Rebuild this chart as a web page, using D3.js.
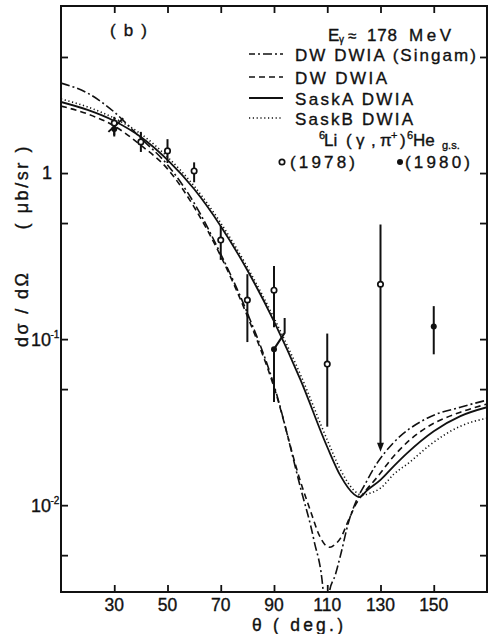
<!DOCTYPE html>
<html><head><meta charset="utf-8">
<script src="https://cdn.jsdelivr.net/npm/d3@7"></script>
<style>
body{margin:0;background:#fff}
svg text{font-family:"Liberation Sans",Arial,Helvetica,sans-serif;fill:#111;stroke:#111;stroke-width:0.35}
</style>
</head><body>
<svg id="chart" width="492" height="634"></svg>
<script>
// ---------- data ----------
const thetaTicks = [30,50,70,90,110,130,150];
const yMajorTicks = [1,0.1,0.01];
const yMinorTicks = [5,0.5,0.05,0.005];

// DW DWIA (Singam) – dash-dot
const singamT = [10,20,30,40,50,60,70,80,90,100,105,108.5,109.6,110.8,113,115,118,121,124,128.7,134.7,147.5,160,170];
const singamV = [3.48,3.03,2.33,1.62,1.12,0.660,0.325,0.1435,0.0528,0.01266,0.00615,0.0030,0.0015,0.0030,0.00379,0.0050,0.0079,0.0107,0.0132,0.0179,0.0236,0.0334,0.0389,0.0429];
// DW DWIA – dashed
const dwT = [10,20,30,40,50,60,70,80,90,100,104,107,109,111,113,115,118,121,124,128.7,134.7,141,147.5,160,170];
const dwV = [2.53,2.27,1.92,1.47,1.06,0.624,0.316,0.1376,0.0514,0.0138,0.00895,0.00659,0.00582,0.00558,0.00582,0.00633,0.00812,0.0103,0.0120,0.0147,0.0195,0.0247,0.0295,0.0363,0.0406];
// SaskA DWIA – solid
const saskAT = [10,20,30,40,50,60,70,80,90,100,110,115,120,122,125,130,135,140,150,160,170];
const saskAV = [2.68,2.40,2.06,1.65,1.20,0.801,0.479,0.260,0.128,0.0566,0.0224,0.0150,0.01165,0.01117,0.0123,0.0142,0.0172,0.0206,0.0279,0.0344,0.0389];
// SaskB DWIA – dotted
const saskBT = [10,20,30,40,50,60,70,80,90,100,110,115,120,123,126,130,135,141,148,160,170];
const saskBV = [2.79,2.50,2.14,1.72,1.25,0.835,0.500,0.271,0.134,0.0607,0.0247,0.0163,0.0123,0.0115,0.0118,0.01266,0.01537,0.01816,0.02266,0.0299,0.0334];

// data (1978) open circles
const open78T  = [30,40,50,60,70,80,90,110,130];
const open78V  = [2.0,1.54,1.36,1.03,0.395,0.172,0.197,0.0707,0.214];
const open78Lo = [1.69,1.34,1.15,0.88,0.30,0.096,0.118,0.0297,0.021];
const open78Hi = [2.18,1.77,1.60,1.16,0.48,0.246,0.276,0.108,0.49];
const open78Arrow = [false,false,false,false,false,false,false,false,true];
// data (1980) filled circles
const filled80T  = [30,90,150];
const filled80V  = [1.84,0.087,0.119];
const filled80Lo = [1.66,0.0418,0.081];
const filled80Hi = [2.05,0.087,0.158];
const bentBar90 = [[90,0.087],[94,0.109],[94,0.134]];
const bentBar30 = [[27.8,1.77],[33.4,2.14]];

// ---------- chart ----------
const svg = d3.select("#chart");
const L=61, R=487, T=6, B=592;
const x = d3.scaleLinear().domain([10,170]).range([L,R]);
const y = d3.scaleLog().domain([0.003,10]).range([B,7]);

svg.append("defs").append("clipPath").attr("id","plot")
  .append("rect").attr("x",L).attr("y",T).attr("width",R-L).attr("height",B-T);

function tickAxis(gen, tr, vals, size){
  const g = svg.append("g").attr("transform",tr)
    .call(gen.tickValues(vals).tickSize(size).tickFormat(""));
  g.select(".domain").remove();
  g.selectAll(".tick line").attr("stroke","#111").attr("stroke-width",1.8);
  return g;
}
tickAxis(d3.axisTop(x), `translate(0,${B})`, thetaTicks, 7);
tickAxis(d3.axisBottom(x), `translate(0,${T})`, thetaTicks, 7);
tickAxis(d3.axisRight(y), `translate(${L},0)`, yMajorTicks.concat(yMinorTicks), 7);
tickAxis(d3.axisLeft(y), `translate(${R},0)`, yMajorTicks.concat(yMinorTicks), 7);

svg.append("rect").attr("x",L).attr("y",T).attr("width",R-L).attr("height",B-T)
  .attr("fill","none").attr("stroke","#111").attr("stroke-width",2);

// x tick labels
svg.append("g").selectAll("text").data(thetaTicks).join("text")
  .attr("x",d=>x(d)).attr("y",611).attr("text-anchor","middle")
  .attr("font-size",17.5).text(d=>d);

// y tick labels
yMajorTicks.forEach(v=>{
  const yy = y(v);
  if(v===1){
    svg.append("text").attr("x",52).attr("y",yy+6).attr("text-anchor","end")
      .attr("font-size",18).text("1");
  } else {
    const e = Math.round(Math.log10(v));
    svg.append("text").attr("x",51).attr("y",yy+7).attr("text-anchor","end")
      .attr("font-size",18).text("10");
    svg.append("text").attr("x",50.5).attr("y",yy-1).attr("font-size",10).text(String(e));
  }
});

// axis titles
svg.append("text").attr("transform","translate(28,310) rotate(-90)")
  .attr("text-anchor","middle").attr("font-size",18)
  .attr("textLength",74).attr("lengthAdjust","spacing").text("d\u03C3 / d\u03A9");
svg.append("text").attr("transform","translate(28,188) rotate(-90)")
  .attr("text-anchor","middle").attr("font-size",18)
  .attr("textLength",83).attr("lengthAdjust","spacing").text("( \u03BCb/sr )");
svg.append("text").attr("x",252).attr("y",630.5).attr("font-size",17.5)
  .attr("textLength",91).attr("lengthAdjust","spacing").text("\u03B8   ( deg.)");
svg.append("text").attr("x",110).attr("y",36).attr("font-size",17)
  .attr("textLength",37).attr("lengthAdjust","spacing").text("( b )");

// curves
const curves = [
  {t:singamT, v:singamV, dash:"9,3,2,3", w:1.6},
  {t:dwT, v:dwV, dash:"6,4", w:1.6},
  {t:saskAT, v:saskAV, dash:null, w:1.8},
  {t:saskBT, v:saskBV, dash:"1.2,2.6", w:1.6}
];
const line = d3.line().x(d=>x(d[0])).y(d=>y(d[1])).curve(d3.curveMonotoneX);
const cg = svg.append("g").attr("clip-path","url(#plot)");
curves.forEach(c=>{
  cg.append("path").attr("d", line(d3.zip(c.t,c.v)))
    .attr("fill","none").attr("stroke","#111").attr("stroke-width",c.w)
    .attr("stroke-dasharray",c.dash);
});

// error bars and points
const pg = svg.append("g");
open78T.forEach((t,i)=>{
  pg.append("line").attr("x1",x(t)).attr("x2",x(t))
    .attr("y1",y(open78Hi[i])).attr("y2",y(open78Lo[i]) - (open78Arrow[i]?6:0))
    .attr("stroke","#111").attr("stroke-width",2);
  if(open78Arrow[i]){
    const xt=x(t), yt=y(open78Lo[i]);
    pg.append("path").attr("d",`M${xt-3.5},${yt-9}L${xt+3.5},${yt-9}L${xt},${yt}Z`).attr("fill","#111");
  }
});
filled80T.forEach((t,i)=>{
  pg.append("line").attr("x1",x(t)).attr("x2",x(t))
    .attr("y1",y(filled80Hi[i])).attr("y2",y(filled80Lo[i]))
    .attr("stroke","#111").attr("stroke-width",2);
});
const straight = d3.line().x(d=>x(d[0])).y(d=>y(d[1]));
[bentBar90, bentBar30].forEach(b=>{
  pg.append("path").attr("d",straight(b))
    .attr("fill","none").attr("stroke","#111").attr("stroke-width",2);
});
pg.selectAll("circle.o").data(d3.zip(open78T,open78V)).join("circle")
  .attr("cx",d=>x(d[0])).attr("cy",d=>y(d[1])).attr("r",2.7)
  .attr("fill","#fff").attr("stroke","#111").attr("stroke-width",1.7);
pg.selectAll("circle.f").data(d3.zip(filled80T,filled80V)).join("circle")
  .attr("cx",d=>x(d[0])).attr("cy",d=>y(d[1])).attr("r",3)
  .attr("fill","#111");

// legend
const lg = svg.append("g");
lg.append("text").attr("x",328).attr("y",41).attr("font-size",17).text("E");
lg.append("text").attr("x",339).attr("y",43).attr("font-size",10).text("\u03B3");
lg.append("text").attr("x",348).attr("y",41).attr("font-size",15).text("\u2248");
lg.append("text").attr("x",367).attr("y",41).attr("font-size",17)
  .attr("textLength",30).attr("lengthAdjust","spacing").text("178");
lg.append("text").attr("x",409).attr("y",41).attr("font-size",17)
  .attr("textLength",42).attr("lengthAdjust","spacing").text("MeV");

const rows = [
  {label:"DW  DWIA (Singam)", y:54, dash:"9,3,2,3", len:181, w:1.6, off:"3"},
  {label:"DW  DWIA", y:77, dash:"6,4", len:92, w:1.6, off:"0"},
  {label:"SaskA  DWIA", y:98, dash:null, len:118, w:1.8, off:"0"},
  {label:"SaskB  DWIA", y:118, dash:"1.2,2.6", len:118, w:1.6, off:"0"}
];
rows.forEach(r=>{
  lg.append("line").attr("x1",249).attr("x2",283).attr("y1",r.y).attr("y2",r.y)
    .attr("stroke","#111").attr("stroke-width",r.w).attr("stroke-dasharray",r.dash)
    .attr("stroke-dashoffset",r.off);
  lg.append("text").attr("x",295).attr("y",r.y+6.5).attr("font-size",17)
    .attr("textLength",r.len).attr("lengthAdjust","spacing").text(r.label);
});

// reaction label, pieces placed as in the reference
const react = [
  {t:"6", x:319, y:139, s:11},
  {t:"Li", x:324, y:146, s:17},
  {t:"(", x:346, y:146, s:17},
  {t:"\u03B3", x:356, y:146, s:17},
  {t:",", x:371, y:146, s:17},
  {t:"\u03C0", x:380, y:146, s:17},
  {t:"+", x:391, y:139, s:11},
  {t:")", x:400, y:146, s:17},
  {t:"6", x:407, y:139, s:11},
  {t:"He", x:413, y:146, s:17},
  {t:"g.s.", x:442, y:149, s:11}
];
react.forEach(p=>{
  lg.append("text").attr("x",p.x).attr("y",p.y).attr("font-size",p.s).text(p.t);
});

lg.append("circle").attr("cx",282).attr("cy",162).attr("r",2.7)
  .attr("fill","#fff").attr("stroke","#111").attr("stroke-width",1.7);
lg.append("text").attr("x",290).attr("y",168).attr("font-size",17)
  .attr("textLength",65).attr("lengthAdjust","spacing").text("(1978)");
lg.append("circle").attr("cx",400).attr("cy",162).attr("r",3).attr("fill","#111");
lg.append("text").attr("x",405).attr("y",168).attr("font-size",17)
  .attr("textLength",65).attr("lengthAdjust","spacing").text("(1980)");
</script>
</body></html>
